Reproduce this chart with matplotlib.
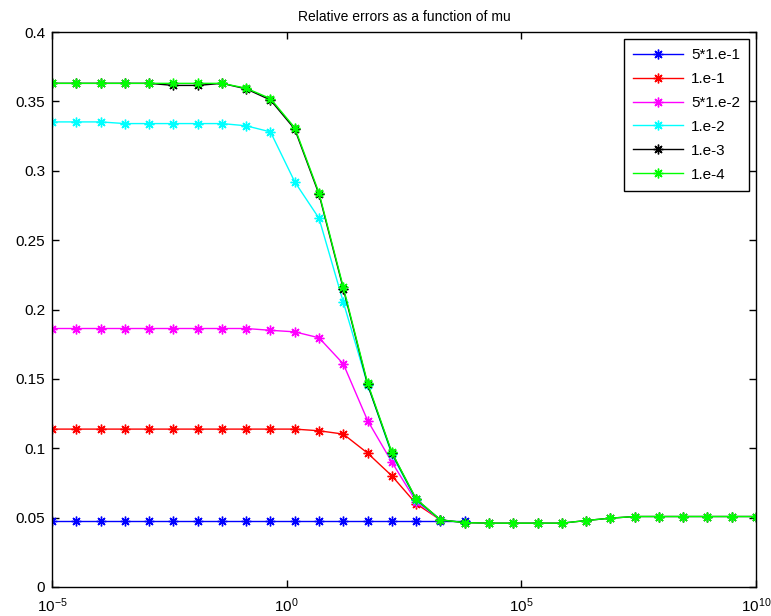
#!/usr/bin/env python3
import numpy as np
import matplotlib
matplotlib.use("Agg")
import matplotlib.pyplot as plt

# parameter grid (30 values of mu, 1e-5 .. 1e10)
mu = np.logspace(-5, 10, 30)

labels = ["5*1.e-1", "1.e-1", "5*1.e-2", "1.e-2", "1.e-3", "1.e-4"]
colors = ["#0000ff", "#ff0000", "#ff00ff", "#00ffff", "#000000", "#00ff00"]

err_5e1 = [0.0476] * 18
err_1e1 = [0.1138] * 11 + [0.1126, 0.1102, 0.0965, 0.0801, 0.0600, 0.0484]
err_5e2 = [0.1863] * 9 + [0.1850, 0.1839, 0.1796, 0.1608, 0.1200, 0.0900, 0.0616, 0.0484]
err_1e2 = [0.3352] * 3 + [0.3340] * 5 + [0.3324, 0.3280, 0.2920, 0.2657, 0.2053,
                                       0.1459, 0.0955, 0.0625, 0.0484]
err_1e3 = [0.363] * 5 + [0.3615, 0.3615, 0.363, 0.3590, 0.3510, 0.3300, 0.2830, 0.2150,
                         0.1460, 0.0965, 0.0632, 0.0484, 0.0464,
                         0.046, 0.046, 0.046, 0.046, 0.0479, 0.0496] + [0.0508] * 6
err_1e4 = [0.363] * 8 + [0.3595, 0.352, 0.331, 0.284, 0.216, 0.147, 0.097, 0.0635,
                         0.0484, 0.0464, 0.046, 0.046, 0.046, 0.046, 0.0479, 0.0496] + [0.0508] * 6

series = [err_5e1, err_1e1, err_5e2, err_1e2, err_1e3, err_1e4]

plt.rcParams["font.family"] = ["Liberation Sans", "DejaVu Sans"]
plt.rcParams["mathtext.fontset"] = "custom"
plt.rcParams["mathtext.rm"] = "Liberation Sans"
plt.rcParams["mathtext.it"] = "Liberation Sans"

fig = plt.figure(figsize=(7.71, 6.16), dpi=100)
ax = fig.add_axes([52 / 771, 29 / 616, 704 / 771, 555 / 616])

star = (8, 2, 0)  # matlab-like asterisk
for vals, lab, c in zip(series, labels, colors):
    ax.plot(mu[:len(vals)], vals, color=c, lw=1.0, marker=star, ms=7, mew=1.0, label=lab)

ax.set_xscale("log")
ax.set_xlim(1e-5, 1e10)
ax.set_ylim(0, 0.4)
ax.set_xticks([1e-5, 1e0, 1e5, 1e10])
ax.minorticks_off()
ax.set_yticks(np.arange(0, 0.41, 0.05))
ax.set_yticklabels(["0", "0.05", "0.1", "0.15", "0.2", "0.25", "0.3", "0.35", "0.4"])
ax.tick_params(direction="in", length=5, width=1, labelsize=11, top=True, right=True, pad=5)
ax.tick_params(axis="x", pad=7)
for s in ax.spines.values():
    s.set_linewidth(1.0)

ax.set_title("Relative errors as a function of mu", fontsize=10, pad=8)

leg = ax.legend(loc="upper right", fontsize=11, handlelength=3.3, labelspacing=0.65,
                fancybox=False, framealpha=1, edgecolor="black", borderpad=0.6,
                borderaxespad=0.45, handletextpad=0.5)
leg.get_frame().set_linewidth(1.0)

fig.savefig("out.png", dpi=100)
